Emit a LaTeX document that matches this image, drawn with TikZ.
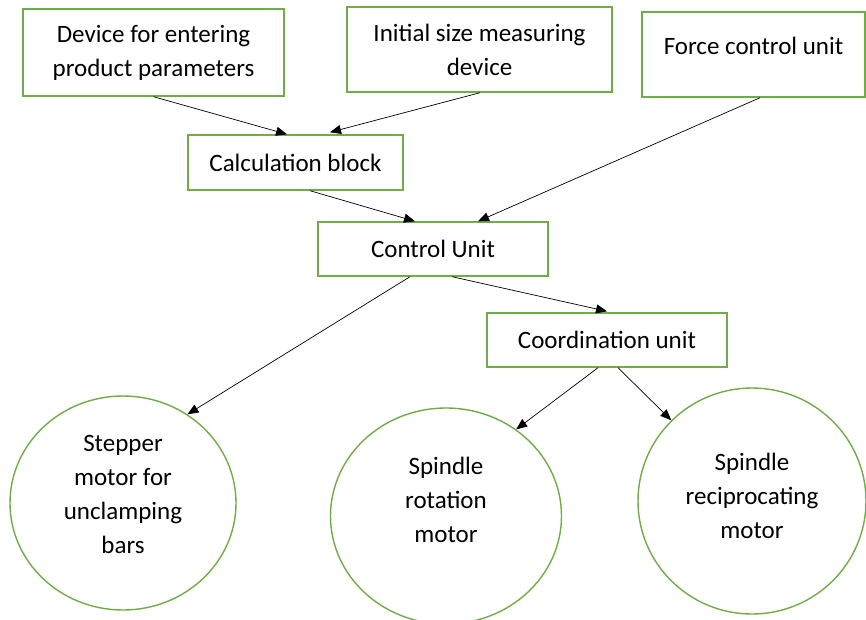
\documentclass[tikz,border=0pt]{standalone}
\usepackage{fontspec}
\setmainfont{Carlito}
\usetikzlibrary{arrows.meta,shapes.geometric}
\definecolor{boxgreen}{RGB}{112,173,71}
\begin{document}
\begin{tikzpicture}[x=1pt,y=-1pt,
  txt/.style={font=\fontsize{25}{34}\selectfont, align=center, text=black},
  boxnode/.style={draw=boxgreen, line width=1.4pt, rectangle, inner sep=0pt, txt},
  motor/.style={draw=boxgreen, line width=1.4pt, ellipse, inner sep=0pt, txt},
  conn/.style={draw=black, line width=0.7pt, -{Triangle[length=11pt,width=9pt]}}]
\useasboundingbox[fill=white] (0,0) rectangle (866,619);

\node[boxnode, minimum width=261pt, minimum height=87pt] (dev) at (153.5,52.5) {Device for entering\\product parameters};
\node[boxnode, minimum width=265pt, minimum height=85pt] (init) at (479.5,49.5) {Initial size measuring\\device};
\node[boxnode, minimum width=223pt, minimum height=85pt] (force) at (753.5,54.5) {};
\node[txt] (forcetxt) at (753.5,46) {Force control unit};
\node[boxnode, minimum width=215pt, minimum height=55pt] (calc) at (295.5,162.5) {Calculation block};
\node[boxnode, minimum width=230pt, minimum height=54pt] (ctrl) at (433,249) {Control Unit};
\node[boxnode, minimum width=240pt, minimum height=54pt] (coord) at (607,340) {Coordination unit};

\node[motor, minimum width=226pt, minimum height=214pt] (stepper) at (123,503) {};
\node[txt] (steppertxt) at (123,494) {Stepper\\motor for\\unclamping\\bars};
\node[motor, minimum width=231pt, minimum height=216pt] (rot) at (446,516) {};
\node[txt] (rottxt) at (446,500) {Spindle\\rotation\\motor};
\node[motor, minimum width=228pt, minimum height=226pt] (recip) at (752,501) {};
\node[txt] (reciptxt) at (752,496) {Spindle\\reciprocating\\motor};

\draw[conn] (dev.south) -- ([xshift=-8.5pt]calc.north);
\draw[conn] ([xshift=0.5pt]init.south) -- ([xshift=34.5pt,yshift=2pt]calc.north);
\draw[conn] ([xshift=14.5pt]calc.south) -- ([xshift=-18pt]ctrl.north);
\draw[conn] ([xshift=6.5pt]force.south) -- ([xshift=45pt]ctrl.north);
\draw[conn] ([xshift=19pt]ctrl.south) -- ([yshift=1pt]coord.north);
\draw[conn] ([xshift=-23pt]ctrl.south) -- (stepper.54);
\draw[conn] ([xshift=-9pt]coord.south) -- (rot.51);
\draw[conn] ([xshift=11pt]coord.south) -- (recip.135);
\end{tikzpicture}
\end{document}
